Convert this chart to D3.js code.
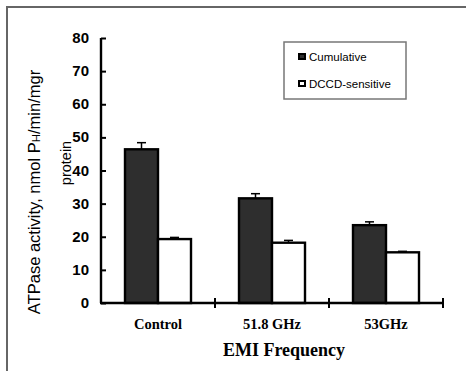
<!DOCTYPE html>
<html>
<head>
<meta charset="utf-8">
<script src="https://cdn.jsdelivr.net/npm/d3@7"></script>
<style>
  body { margin: 0; background: #fff; }
  svg { display: block; }
</style>
</head>
<body>
<div id="chart"></div>
<script>
// chart values
var categories = ["Control", "51.8 GHz", "53GHz"];
var seriesNames = ["Cumulative", "DCCD-sensitive"];
var cumulative = [46.4, 31.6, 23.5];
var cumulativeErr = [2.0, 1.4, 1.0];
var dccd = [19.3, 18.2, 15.3];
var dccdErr = [0.5, 0.7, 0.3];
var yTicks = [0, 10, 20, 30, 40, 50, 60, 70, 80];

var fills = ["#2e2e2e", "#ffffff"];

/**
 * Builds the svg and the outer frame
 */
function appendSVG(id) {
    var svg = d3.select("#" + id)
        .append("svg")
        .attr("width", 466)
        .attr("height", 371);

    svg.append("rect")
        .attr("x", 7)
        .attr("y", 7)
        .attr("width", 470)
        .attr("height", 380)
        .attr("fill", "none")
        .attr("stroke", "#666")
        .attr("stroke-width", 2);

    return svg;
}

function drawChart() {
    var svg = appendSVG("chart");

    var x = d3.scaleBand()
        .domain(categories)
        .range([101, 443]);

    var y = d3.scaleLinear()
        .domain([0, 80])
        .range([303, 38]);

    var barW = 33;
    var rows = categories.map(function (c, i) {
        return [
            { cat: c, s: 0, v: cumulative[i], e: cumulativeErr[i] },
            { cat: c, s: 1, v: dccd[i], e: dccdErr[i] }
        ];
    });
    var flat = d3.merge(rows);

    function barX(d) {
        return x(d.cat) + x.bandwidth() / 2 - barW + d.s * barW;
    }

    // error bars (upper only)
    var err = svg.append("g")
        .attr("stroke", "#000")
        .attr("stroke-width", 1.5);
    flat.forEach(function (d) {
        var cx = barX(d) + barW / 2;
        err.append("line")
            .attr("x1", cx).attr("x2", cx)
            .attr("y1", y(d.v)).attr("y2", y(d.v + d.e));
        err.append("line")
            .attr("x1", cx - 4.5).attr("x2", cx + 4.5)
            .attr("y1", y(d.v + d.e)).attr("y2", y(d.v + d.e));
    });

    // bars
    svg.append("g")
        .selectAll("rect")
        .data(flat)
        .enter()
        .append("rect")
        .attr("x", barX)
        .attr("y", function (d) { return y(d.v); })
        .attr("width", barW)
        .attr("height", function (d) { return y(0) - y(d.v); })
        .attr("fill", function (d) { return fills[d.s]; })
        .attr("stroke", "#000")
        .attr("stroke-width", 2.4);

    // y axis, ticks point inward
    var yAxis = svg.append("g")
        .attr("transform", "translate(101,0)")
        .call(d3.axisRight(y).tickValues(yTicks).tickSize(5).tickFormat(""));
    yAxis.select(".domain").attr("stroke-width", 2.4).attr("d", "M0," + y(80) + "V" + y(0));
    yAxis.selectAll(".tick line").attr("stroke-width", 2);

    svg.append("g")
        .selectAll("text")
        .data(yTicks)
        .enter()
        .append("text")
        .attr("x", 89)
        .attr("y", function (d) { return y(d) + 5; })
        .attr("text-anchor", "end")
        .style("font-family", "Liberation Sans, Arial, sans-serif")
        .style("font-weight", "bold")
        .style("font-size", "15px")
        .text(function (d) { return d; });

    // x axis with ticks between the groups
    var xAxis = svg.append("g")
        .attr("transform", "translate(0," + y(0) + ")");
    xAxis.append("line")
        .attr("x1", 100).attr("x2", 443)
        .attr("stroke", "#000").attr("stroke-width", 2.4);
    var bounds = categories.map(function (c) { return x(c); }).concat([x.range()[1]]);
    xAxis.selectAll("line.t")
        .data(bounds.slice(1))
        .enter()
        .append("line")
        .attr("class", "t")
        .attr("x1", function (d) { return d; })
        .attr("x2", function (d) { return d; })
        .attr("y1", -5).attr("y2", 5)
        .attr("stroke", "#000").attr("stroke-width", 2);

    xAxis.selectAll("text")
        .data(categories)
        .enter()
        .append("text")
        .attr("x", function (d) { return x(d) + x.bandwidth() / 2; })
        .attr("y", 26)
        .attr("text-anchor", "middle")
        .style("font-family", "Liberation Serif, Times New Roman, serif")
        .style("font-weight", "bold")
        .style("font-size", "14.5px")
        .text(function (d) { return d; });

    // axis titles
    svg.append("text")
        .attr("x", 284)
        .attr("y", 356)
        .attr("text-anchor", "middle")
        .style("font-family", "Liberation Serif, Times New Roman, serif")
        .style("font-weight", "bold")
        .style("font-size", "18px")
        .text("EMI Frequency");

    var yTitle = svg.append("text")
        .attr("transform", "translate(40,192) rotate(-90)")
        .attr("text-anchor", "middle")
        .style("font-family", "Liberation Sans, Arial, sans-serif")
        .style("font-size", "16.5px");
    yTitle.append("tspan").text("ATPase activity, nmol P");
    yTitle.append("tspan").style("font-size", "11.5px").text("H");
    yTitle.append("tspan").text("/min/mgr");

    svg.append("text")
        .attr("transform", "translate(71,163) rotate(-90)")
        .attr("text-anchor", "middle")
        .style("font-family", "Liberation Sans, Arial, sans-serif")
        .style("font-size", "14.5px")
        .text("protein");

    // legend
    var legend = svg.append("g");
    legend.append("rect")
        .attr("x", 284).attr("y", 42)
        .attr("width", 122).attr("height", 57)
        .attr("fill", "#fff")
        .attr("stroke", "#777")
        .attr("stroke-width", 1.5);
    seriesNames.forEach(function (name, i) {
        var ly = 54 + i * 27;
        legend.append("rect")
            .attr("x", 299).attr("y", ly)
            .attr("width", 6).attr("height", 5)
            .attr("fill", fills[i])
            .attr("stroke", "#000")
            .attr("stroke-width", 2);
        legend.append("text")
            .attr("x", 309).attr("y", ly + 7)
            .style("font-family", "Liberation Sans, Arial, sans-serif")
            .style("font-size", "11.5px")
            .text(name);
    });
}

drawChart();
</script>
</body>
</html>
